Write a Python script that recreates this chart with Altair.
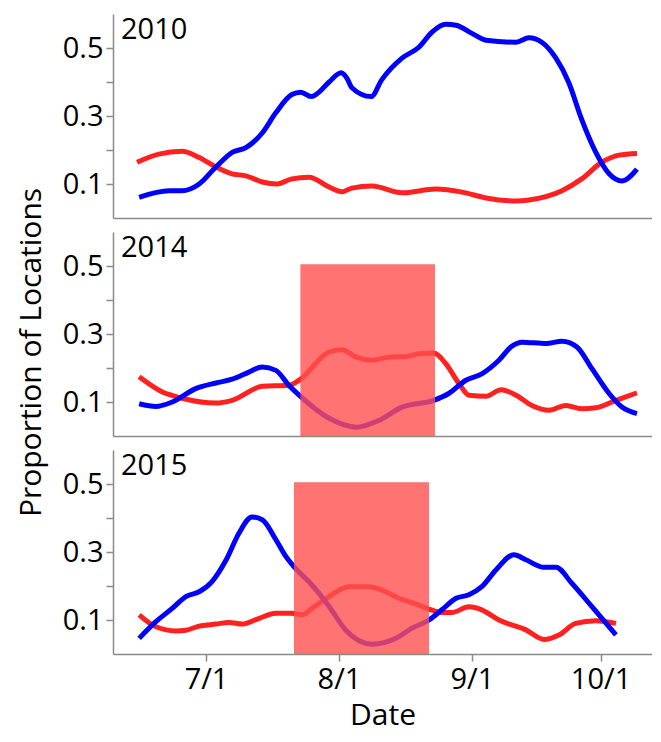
import altair as alt
import pandas as pd

# Day offsets relative to July 1, and proportion values
years = ["2010", "2014", "2015"]

blue_2010_d = [-15.6, -8.6, -5.6, -1.6, 2.3, 6.1, 9.3, 13.1, 16.3, 20.0, 22.1, 24.5, 25.6, 28.7, 31.5, 32.9, 34.0, 38.5, 41.0, 45.7, 49.7, 52.7, 55.9, 58.3, 62.0, 65.3, 72.3, 75.3, 78.3, 81.6, 84.6, 87.6, 90.9, 94.0, 97.0, 100.5]
blue_2010_v = [0.061, 0.08, 0.08, 0.10, 0.15, 0.193, 0.207, 0.25, 0.31, 0.363, 0.37, 0.357, 0.363, 0.40, 0.427, 0.41, 0.383, 0.357, 0.407, 0.47, 0.503, 0.547, 0.57, 0.567, 0.543, 0.523, 0.517, 0.53, 0.517, 0.47, 0.398, 0.29, 0.193, 0.13, 0.109, 0.144]
red_2010_d = [-16.1, -11.0, -5.6, -1.6, 2.3, 6.1, 9.3, 13.1, 16.6, 20.0, 24.0, 28.7, 31.7, 34.0, 38.7, 45.7, 53.6, 59.7, 65.3, 72.3, 75.3, 83.0, 87.6, 92.3, 96.3, 100.5]
red_2010_v = [0.164, 0.188, 0.196, 0.178, 0.15, 0.13, 0.124, 0.106, 0.10, 0.115, 0.12, 0.091, 0.077, 0.088, 0.094, 0.074, 0.085, 0.076, 0.059, 0.05, 0.053, 0.08, 0.115, 0.164, 0.185, 0.19]

blue_2014_d = [-15.6, -11.7, -7.9, -2.3, 2.3, 6.1, 10.0, 13.1, 16.3, 19.3, 21.7, 28.7, 35.0, 40.3, 45.7, 53.1, 56.6, 60.6, 64.3, 68.3, 71.3, 73.7, 79.3, 83.0, 86.5, 90.0, 94.0, 97.0, 100.5]
blue_2014_v = [0.095, 0.087, 0.10, 0.14, 0.156, 0.167, 0.188, 0.203, 0.193, 0.149, 0.12, 0.052, 0.026, 0.046, 0.085, 0.105, 0.125, 0.164, 0.183, 0.223, 0.264, 0.276, 0.272, 0.279, 0.262, 0.198, 0.125, 0.085, 0.066]
red_2014_d = [-15.6, -10.3, -5.6, 2.3, 6.1, 13.1, 19.3, 21.7, 28.7, 31.7, 35.0, 38.7, 42.7, 46.6, 49.7, 53.1, 55.9, 59.0, 61.3, 65.3, 68.8, 72.3, 76.0, 80.0, 83.9, 87.6, 90.9, 95.6, 100.5]
red_2014_v = [0.174, 0.13, 0.111, 0.097, 0.105, 0.146, 0.149, 0.164, 0.247, 0.254, 0.232, 0.223, 0.232, 0.234, 0.242, 0.244, 0.213, 0.154, 0.12, 0.117, 0.136, 0.12, 0.09, 0.076, 0.09, 0.08, 0.083, 0.105, 0.127]

blue_2015_d = [-15.6, -11.7, -7.9, -4.7, -1.6, 1.4, 4.7, 7.7, 10.7, 13.1, 16.3, 18.6, 20.5, 24.7, 28.7, 32.6, 38.7, 44.3, 48.0, 52.0, 55.0, 58.3, 61.3, 64.3, 67.6, 71.8, 74.6, 78.8, 81.6, 85.3, 90.0, 95.6]
blue_2015_v = [0.046, 0.095, 0.134, 0.169, 0.183, 0.213, 0.277, 0.356, 0.403, 0.395, 0.336, 0.287, 0.257, 0.203, 0.14, 0.07, 0.029, 0.046, 0.076, 0.10, 0.13, 0.164, 0.174, 0.198, 0.247, 0.292, 0.277, 0.255, 0.255, 0.208, 0.139, 0.056]
red_2015_d = [-15.6, -11.7, -7.0, -4.7, -1.6, 2.3, 5.4, 8.4, 12.4, 16.3, 20.0, 22.4, 24.7, 28.7, 33.3, 38.0, 41.0, 45.0, 48.9, 52.0, 55.0, 57.3, 61.3, 64.3, 68.3, 74.6, 78.8, 82.3, 86.2, 90.9, 95.6]
red_2015_v = [0.115, 0.08, 0.068, 0.07, 0.082, 0.088, 0.093, 0.088, 0.105, 0.12, 0.12, 0.115, 0.134, 0.169, 0.198, 0.198, 0.188, 0.164, 0.147, 0.132, 0.122, 0.122, 0.139, 0.13, 0.10, 0.071, 0.043, 0.056, 0.09, 0.098, 0.09]

# shaded windows (day offsets from July 1) and top value
shade_2014 = [22.0, 53.4, 0.505]
shade_2015 = [20.5, 52.0, 0.505]

tick_dates = ["2010-07-01", "2010-08-01", "2010-09-01", "2010-10-01"]
x_domain_d = [-21.7, 104.0]

BASE = pd.Timestamp("2010-07-01")
FONT = "Open Sans"
AXIS_GRAY = "#8a8a8a"
FS = 29
TFS = 30

def to_ts(offsets):
    return [(BASE + pd.Timedelta(days=o)).strftime("%Y-%m-%dT%H:%M:%S") for o in offsets]

x_dom = to_ts(x_domain_d)
W, H = 539, 204


def panel(year, bd, bv, rd, rv, shade=None, bottom=False, ytitle=False):
    df = pd.concat([
        pd.DataFrame({"date": to_ts(rd), "value": rv, "series": "red"}),
        pd.DataFrame({"date": to_ts(bd), "value": bv, "series": "blue"}),
    ])
    if bottom:
        xaxis = alt.Axis(values=tick_dates, format="%-m/%-d", title="Date",
                         labelFontSize=FS, titleFontSize=TFS, labelFont=FONT, titleFont=FONT,
                         labelColor="black", titleColor="black", titleFontWeight="normal",
                         tickSize=7, tickColor=AXIS_GRAY, tickWidth=1.5,
                         domainColor=AXIS_GRAY, domainWidth=1.5, grid=False,
                         labelPadding=4, titlePadding=6)
    else:
        xaxis = alt.Axis(title=None, labels=False, ticks=False, grid=False,
                         domainColor=AXIS_GRAY, domainWidth=1.5)
    yaxis = alt.Axis(values=[0.1, 0.2, 0.3, 0.4, 0.5],
                     labelExpr="round(datum.value*10) % 2 == 1 ? format(datum.value, '.1f') : ''",
                     title="Proportion of Locations" if ytitle else None,
                     labelFontSize=FS, titleFontSize=TFS, labelFont=FONT, titleFont=FONT,
                     labelColor="black", titleColor="black", titleFontWeight="normal",
                     tickSize=7, tickColor=AXIS_GRAY, tickWidth=1.5,
                     domainColor=AXIS_GRAY, domainWidth=1.5, grid=False,
                     labelPadding=3, titlePadding=16,
                     **({"titleY": 120} if ytitle else {}))
    xs = alt.Scale(domain=x_dom, nice=False)
    ys = alt.Scale(domain=[0, 0.6], nice=False, zero=False)
    lines = alt.Chart(df).mark_line(strokeWidth=5, interpolate="monotone").encode(
        x=alt.X("date:T", scale=xs, axis=xaxis),
        y=alt.Y("value:Q", scale=ys, axis=yaxis),
        color=alt.Color("series:N", scale=alt.Scale(domain=["red", "blue"], range=["#ff2020", "#0000ff"]), legend=None),
        detail="series:N",
    )
    layers = [lines]
    if shade is not None:
        sdf = pd.DataFrame({"start": to_ts([shade[0]]), "end": to_ts([shade[1]]), "top": [shade[2]], "bot": [0.0]})
        rect = alt.Chart(sdf).mark_rect(color="#ff5050", opacity=0.8).encode(
            x="start:T", x2="end:T", y="bot:Q", y2="top:Q")
        layers.append(rect)
    label = alt.Chart(pd.DataFrame({"label": [year]})).mark_text(
        align="left", baseline="alphabetic", fontSize=FS, font=FONT, color="black"
    ).encode(text="label:N", x=alt.value(8), y=alt.value(25))
    layers.append(label)
    return alt.layer(*layers).properties(width=W, height=H)


p1 = panel(years[0], blue_2010_d, blue_2010_v, red_2010_d, red_2010_v)
p2 = panel(years[1], blue_2014_d, blue_2014_v, red_2014_d, red_2014_v, shade=shade_2014, ytitle=True)
p3 = panel(years[2], blue_2015_d, blue_2015_v, red_2015_d, red_2015_v, shade=shade_2015, bottom=True)

chart = alt.vconcat(p1, p2, p3, spacing=14, bounds="flush").properties(
    background="white",
    padding={"left": 8, "top": 6, "right": 0, "bottom": 3}
).configure_view(stroke=None, strokeWidth=0)

chart.save("out.html", embed_options={"renderer": "svg", "actions": False})
